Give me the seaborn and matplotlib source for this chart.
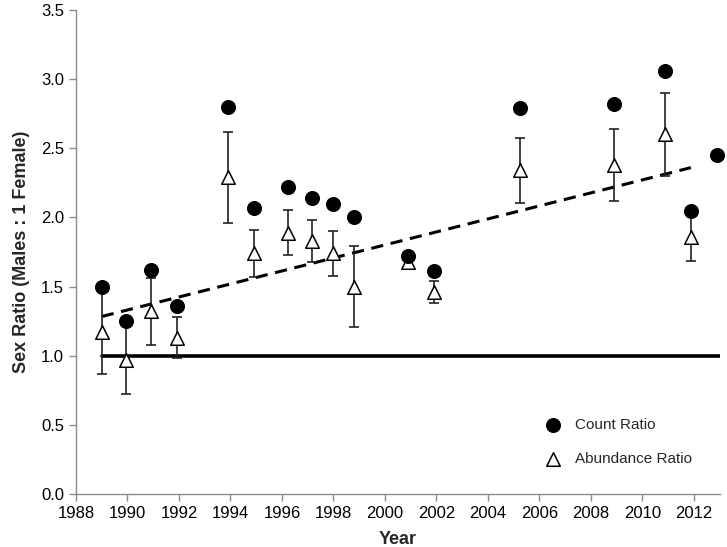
import numpy as np
import pandas as pd
import matplotlib
matplotlib.use("Agg")
import matplotlib.pyplot as plt
import seaborn as sns

# Datos
count_years = [1989.0, 1989.93, 1990.91, 1991.91, 1993.92, 1994.91, 1996.23, 1997.17,
               1997.99, 1998.81, 2000.91, 2001.9, 2005.24, 2008.89, 2010.88, 2011.88, 2012.88]
count_ratio = [1.50, 1.25, 1.62, 1.36, 2.80, 2.07, 2.22, 2.14,
               2.10, 2.00, 1.72, 1.61, 2.79, 2.82, 3.06, 2.05, 2.45]

abund_years = [1989.0, 1989.93, 1990.91, 1991.91, 1993.92, 1994.91, 1996.23, 1997.17,
               1997.99, 1998.81, 2000.91, 2001.9, 2005.24, 2008.89, 2010.88, 2011.88]
abund_ratio = [1.17, 0.97, 1.32, 1.13, 2.29, 1.74, 1.89, 1.83,
               1.74, 1.50, 1.68, 1.46, 2.34, 2.38, 2.60, 1.86]
abund_err = [0.30, 0.25, 0.24, 0.15, 0.33, 0.17, 0.165, 0.15,
             0.16, 0.29, 0.04, 0.08, 0.235, 0.26, 0.30, 0.175]

parity_years = [1989.0, 2013.0]
parity_ratio = [1.0, 1.0]

df_count = pd.DataFrame({"Year": count_years, "Ratio": count_ratio})
df_abund = pd.DataFrame({"Year": abund_years, "Ratio": abund_ratio, "Err": abund_err})

sns.set_theme(style="white")
plt.rcParams["font.family"] = ["Liberation Sans", "DejaVu Sans"]

fig = plt.figure(figsize=(7.27, 5.47), dpi=100)
ax = fig.add_axes([0.1045, 0.0969, 0.8855, 0.8848])

# linea de paridad 1:1
sns.lineplot(x=parity_years, y=parity_ratio, ax=ax, color="black", linewidth=2.6, zorder=1)

# tendencia lineal de la abundancia
sns.regplot(data=df_abund, x="Year", y="Ratio", ax=ax, ci=None, scatter=False,
            line_kws={"color": "black", "linestyle": (0, (4, 2.5)), "linewidth": 2.2, "zorder": 2})

# barras de error
ax.errorbar(df_abund["Year"], df_abund["Ratio"], yerr=df_abund["Err"], fmt="none",
            ecolor="#222222", elinewidth=1.2, capsize=3.5, capthick=1.2, zorder=3)

sns.scatterplot(data=df_abund, x="Year", y="Ratio", ax=ax, marker="^", s=95,
                facecolor="white", edgecolor="black", linewidth=1.1, zorder=4,
                label="Abundance Ratio", clip_on=False)
sns.scatterplot(data=df_count, x="Year", y="Ratio", ax=ax, marker="o", s=100,
                color="black", edgecolor="black", zorder=5, label="Count Ratio",
                clip_on=False)

ax.set_xlim(1988, 2013)
ax.set_ylim(0, 3.5)
ax.set_xticks(np.arange(1988, 2013, 2))
ax.set_yticks(np.arange(0, 3.51, 0.5))
ax.set_yticklabels([f"{v:.1f}" for v in np.arange(0, 3.51, 0.5)])

for side in ["top", "right"]:
    ax.spines[side].set_visible(False)
for side in ["left", "bottom"]:
    ax.spines[side].set_color("#8c8c8c")
    ax.spines[side].set_linewidth(1.0)
ax.tick_params(axis="both", which="major", direction="out", length=5, width=1,
               color="#8c8c8c", labelsize=12, labelcolor="black", bottom=True, left=True)

ax.set_xlabel("Year", fontsize=13, fontweight="bold", labelpad=7)
ax.set_ylabel("Sex Ratio (Males : 1 Female)", fontsize=13, fontweight="bold", labelpad=8)

handles, labels = ax.get_legend_handles_labels()
order = [labels.index("Count Ratio"), labels.index("Abundance Ratio")]
ax.legend([handles[i] for i in order], [labels[i] for i in order], loc="lower right",
          bbox_to_anchor=(0.978, 0.03), frameon=False, fontsize=11, labelspacing=1.3,
          handletextpad=0.4)

plt.savefig("out.png", dpi=100)
